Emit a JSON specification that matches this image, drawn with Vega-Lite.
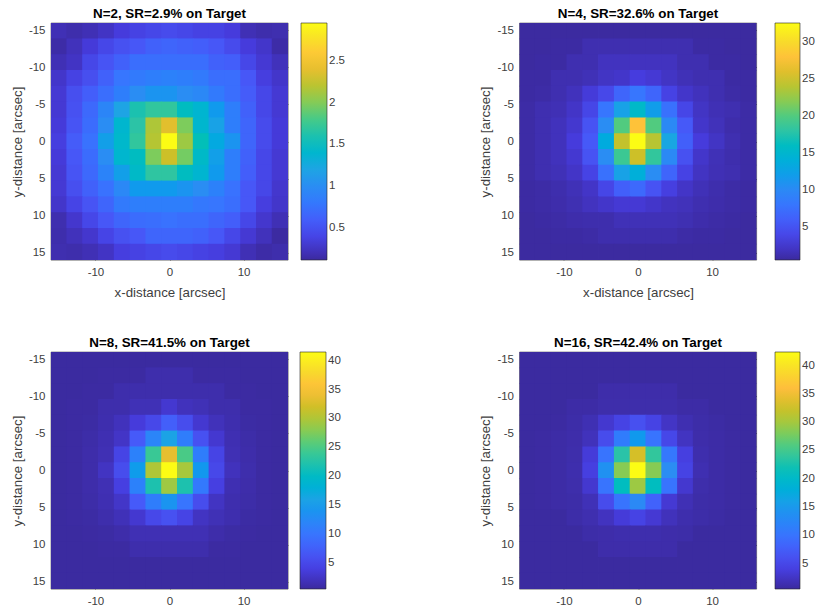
{"$schema":"https://vega.github.io/schema/vega-lite/v6.json","background":"white","padding":{"left":10,"top":7,"right":0,"bottom":0},"bounds":"flush","columns":2,"spacing":{"column":231.5,"row":92},
"resolve":{"scale":{"color":"independent"},"legend":{"color":"independent"}},
"config":{"font":"Liberation Sans","view":{"stroke":"#262626","strokeWidth":0.6},"axis":{"grid":false,"domain":false,"tickColor":"#262626","tickWidth":0.6,"tickSize":-3,"labelColor":"#404040","labelFontSize":11.5,"labelFont":"Liberation Sans","titleColor":"#404040","titleFontSize":13.3,"titleFontWeight":"normal","titleFont":"Liberation Sans","labelExpr":"''+datum.value"},"title":{"font":"Liberation Sans","fontSize":13.4,"fontWeight":"bold","color":"black","anchor":"middle","offset":2},"legend":{"labelColor":"#404040","labelFontSize":11.5,"labelFont":"Liberation Sans"}},
"datasets":{
"n2":[
{"x":-14.93,"y":-14.93,"v":0.2},{"x":-12.8,"y":-14.93,"v":0.17},{"x":-10.67,"y":-14.93,"v":0.2},{"x":-8.53,"y":-14.93,"v":0.25},{"x":-6.4,"y":-14.93,"v":0.33},{"x":-4.27,"y":-14.93,"v":0.38},{"x":-2.13,"y":-14.93,"v":0.42},{"x":0,"y":-14.93,"v":0.45},{"x":2.13,"y":-14.93,"v":0.42},{"x":4.27,"y":-14.93,"v":0.38},{"x":6.4,"y":-14.93,"v":0.38},{"x":8.53,"y":-14.93,"v":0.33},{"x":10.67,"y":-14.93,"v":0.2},{"x":12.8,"y":-14.93,"v":0.17},{"x":14.93,"y":-14.93,"v":0.18},
{"x":-14.93,"y":-12.8,"v":0.15},{"x":-12.8,"y":-12.8,"v":0.22},{"x":-10.67,"y":-12.8,"v":0.32},{"x":-8.53,"y":-12.8,"v":0.42},{"x":-6.4,"y":-12.8,"v":0.5},{"x":-4.27,"y":-12.8,"v":0.55},{"x":-2.13,"y":-12.8,"v":0.62},{"x":0,"y":-12.8,"v":0.65},{"x":2.13,"y":-12.8,"v":0.62},{"x":4.27,"y":-12.8,"v":0.6},{"x":6.4,"y":-12.8,"v":0.55},{"x":8.53,"y":-12.8,"v":0.45},{"x":10.67,"y":-12.8,"v":0.33},{"x":12.8,"y":-12.8,"v":0.27},{"x":14.93,"y":-12.8,"v":0.15},
{"x":-14.93,"y":-10.67,"v":0.2},{"x":-12.8,"y":-10.67,"v":0.25},{"x":-10.67,"y":-10.67,"v":0.42},{"x":-8.53,"y":-10.67,"v":0.52},{"x":-6.4,"y":-10.67,"v":0.62},{"x":-4.27,"y":-10.67,"v":0.72},{"x":-2.13,"y":-10.67,"v":0.72},{"x":0,"y":-10.67,"v":0.72},{"x":2.13,"y":-10.67,"v":0.72},{"x":4.27,"y":-10.67,"v":0.72},{"x":6.4,"y":-10.67,"v":0.62},{"x":8.53,"y":-10.67,"v":0.6},{"x":10.67,"y":-10.67,"v":0.42},{"x":12.8,"y":-10.67,"v":0.3},{"x":14.93,"y":-10.67,"v":0.22},
{"x":-14.93,"y":-8.53,"v":0.27},{"x":-12.8,"y":-8.53,"v":0.38},{"x":-10.67,"y":-8.53,"v":0.48},{"x":-8.53,"y":-8.53,"v":0.62},{"x":-6.4,"y":-8.53,"v":0.78},{"x":-4.27,"y":-8.53,"v":0.82},{"x":-2.13,"y":-8.53,"v":0.85},{"x":0,"y":-8.53,"v":0.88},{"x":2.13,"y":-8.53,"v":0.85},{"x":4.27,"y":-8.53,"v":0.82},{"x":6.4,"y":-8.53,"v":0.72},{"x":8.53,"y":-8.53,"v":0.72},{"x":10.67,"y":-8.53,"v":0.55},{"x":12.8,"y":-8.53,"v":0.35},{"x":14.93,"y":-8.53,"v":0.27},
{"x":-14.93,"y":-6.4,"v":0.3},{"x":-12.8,"y":-6.4,"v":0.48},{"x":-10.67,"y":-6.4,"v":0.6},{"x":-8.53,"y":-6.4,"v":0.72},{"x":-6.4,"y":-6.4,"v":0.85},{"x":-4.27,"y":-6.4,"v":1},{"x":-2.13,"y":-6.4,"v":1.05},{"x":0,"y":-6.4,"v":1.05},{"x":2.13,"y":-6.4,"v":1},{"x":4.27,"y":-6.4,"v":0.95},{"x":6.4,"y":-6.4,"v":0.82},{"x":8.53,"y":-6.4,"v":0.72},{"x":10.67,"y":-6.4,"v":0.58},{"x":12.8,"y":-6.4,"v":0.42},{"x":14.93,"y":-6.4,"v":0.3},
{"x":-14.93,"y":-4.27,"v":0.3},{"x":-12.8,"y":-4.27,"v":0.5},{"x":-10.67,"y":-4.27,"v":0.68},{"x":-8.53,"y":-4.27,"v":0.92},{"x":-6.4,"y":-4.27,"v":1.2},{"x":-4.27,"y":-4.27,"v":1.6},{"x":-2.13,"y":-4.27,"v":1.7},{"x":0,"y":-4.27,"v":1.7},{"x":2.13,"y":-4.27,"v":1.5},{"x":4.27,"y":-4.27,"v":1.38},{"x":6.4,"y":-4.27,"v":1.1},{"x":8.53,"y":-4.27,"v":0.85},{"x":10.67,"y":-4.27,"v":0.62},{"x":12.8,"y":-4.27,"v":0.42},{"x":14.93,"y":-4.27,"v":0.3},
{"x":-14.93,"y":-2.13,"v":0.32},{"x":-12.8,"y":-2.13,"v":0.52},{"x":-10.67,"y":-2.13,"v":0.7},{"x":-8.53,"y":-2.13,"v":1},{"x":-6.4,"y":-2.13,"v":1.4},{"x":-4.27,"y":-2.13,"v":1.65},{"x":-2.13,"y":-2.13,"v":2.15},{"x":0,"y":-2.13,"v":2.38},{"x":2.13,"y":-2.13,"v":1.98},{"x":4.27,"y":-2.13,"v":1.4},{"x":6.4,"y":-2.13,"v":1.18},{"x":8.53,"y":-2.13,"v":0.85},{"x":10.67,"y":-2.13,"v":0.65},{"x":12.8,"y":-2.13,"v":0.45},{"x":14.93,"y":-2.13,"v":0.32},
{"x":-14.93,"y":0,"v":0.35},{"x":-12.8,"y":0,"v":0.58},{"x":-10.67,"y":0,"v":0.75},{"x":-8.53,"y":0,"v":1.15},{"x":-6.4,"y":0,"v":1.42},{"x":-4.27,"y":0,"v":1.7},{"x":-2.13,"y":0,"v":2.18},{"x":0,"y":0,"v":2.95},{"x":2.13,"y":0,"v":2.08},{"x":4.27,"y":0,"v":1.55},{"x":6.4,"y":0,"v":1.25},{"x":8.53,"y":0,"v":1.05},{"x":10.67,"y":0,"v":0.65},{"x":12.8,"y":0,"v":0.45},{"x":14.93,"y":0,"v":0.32},
{"x":-14.93,"y":2.13,"v":0.32},{"x":-12.8,"y":2.13,"v":0.55},{"x":-10.67,"y":2.13,"v":0.7},{"x":-8.53,"y":2.13,"v":1},{"x":-6.4,"y":2.13,"v":1.4},{"x":-4.27,"y":2.13,"v":1.5},{"x":-2.13,"y":2.13,"v":1.98},{"x":0,"y":2.13,"v":2.28},{"x":2.13,"y":2.13,"v":1.95},{"x":4.27,"y":2.13,"v":1.45},{"x":6.4,"y":2.13,"v":1.15},{"x":8.53,"y":2.13,"v":0.85},{"x":10.67,"y":2.13,"v":0.62},{"x":12.8,"y":2.13,"v":0.42},{"x":14.93,"y":2.13,"v":0.3},
{"x":-14.93,"y":4.27,"v":0.3},{"x":-12.8,"y":4.27,"v":0.52},{"x":-10.67,"y":4.27,"v":0.68},{"x":-8.53,"y":4.27,"v":0.9},{"x":-6.4,"y":4.27,"v":1.15},{"x":-4.27,"y":4.27,"v":1.45},{"x":-2.13,"y":4.27,"v":1.68},{"x":0,"y":4.27,"v":1.68},{"x":2.13,"y":4.27,"v":1.5},{"x":4.27,"y":4.27,"v":1.38},{"x":6.4,"y":4.27,"v":1.1},{"x":8.53,"y":4.27,"v":0.85},{"x":10.67,"y":4.27,"v":0.6},{"x":12.8,"y":4.27,"v":0.42},{"x":14.93,"y":4.27,"v":0.3},
{"x":-14.93,"y":6.4,"v":0.3},{"x":-12.8,"y":6.4,"v":0.48},{"x":-10.67,"y":6.4,"v":0.62},{"x":-8.53,"y":6.4,"v":0.75},{"x":-6.4,"y":6.4,"v":0.95},{"x":-4.27,"y":6.4,"v":1.1},{"x":-2.13,"y":6.4,"v":1.1},{"x":0,"y":6.4,"v":1.1},{"x":2.13,"y":6.4,"v":1.05},{"x":4.27,"y":6.4,"v":1},{"x":6.4,"y":6.4,"v":0.88},{"x":8.53,"y":6.4,"v":0.75},{"x":10.67,"y":6.4,"v":0.55},{"x":12.8,"y":6.4,"v":0.42},{"x":14.93,"y":6.4,"v":0.28},
{"x":-14.93,"y":8.53,"v":0.27},{"x":-12.8,"y":8.53,"v":0.4},{"x":-10.67,"y":8.53,"v":0.52},{"x":-8.53,"y":8.53,"v":0.65},{"x":-6.4,"y":8.53,"v":0.82},{"x":-4.27,"y":8.53,"v":0.85},{"x":-2.13,"y":8.53,"v":0.85},{"x":0,"y":8.53,"v":0.85},{"x":2.13,"y":8.53,"v":0.85},{"x":4.27,"y":8.53,"v":0.8},{"x":6.4,"y":8.53,"v":0.78},{"x":8.53,"y":8.53,"v":0.72},{"x":10.67,"y":8.53,"v":0.55},{"x":12.8,"y":8.53,"v":0.35},{"x":14.93,"y":8.53,"v":0.27},
{"x":-14.93,"y":10.67,"v":0.18},{"x":-12.8,"y":10.67,"v":0.28},{"x":-10.67,"y":10.67,"v":0.42},{"x":-8.53,"y":10.67,"v":0.55},{"x":-6.4,"y":10.67,"v":0.65},{"x":-4.27,"y":10.67,"v":0.7},{"x":-2.13,"y":10.67,"v":0.72},{"x":0,"y":10.67,"v":0.75},{"x":2.13,"y":10.67,"v":0.72},{"x":4.27,"y":10.67,"v":0.72},{"x":6.4,"y":10.67,"v":0.65},{"x":8.53,"y":10.67,"v":0.6},{"x":10.67,"y":10.67,"v":0.42},{"x":12.8,"y":10.67,"v":0.28},{"x":14.93,"y":10.67,"v":0.2},
{"x":-14.93,"y":12.8,"v":0.17},{"x":-12.8,"y":12.8,"v":0.22},{"x":-10.67,"y":12.8,"v":0.28},{"x":-8.53,"y":12.8,"v":0.4},{"x":-6.4,"y":12.8,"v":0.5},{"x":-4.27,"y":12.8,"v":0.55},{"x":-2.13,"y":12.8,"v":0.65},{"x":0,"y":12.8,"v":0.65},{"x":2.13,"y":12.8,"v":0.65},{"x":4.27,"y":12.8,"v":0.62},{"x":6.4,"y":12.8,"v":0.55},{"x":8.53,"y":12.8,"v":0.42},{"x":10.67,"y":12.8,"v":0.3},{"x":12.8,"y":12.8,"v":0.22},{"x":14.93,"y":12.8,"v":0.13},
{"x":-14.93,"y":14.93,"v":0.18},{"x":-12.8,"y":14.93,"v":0.17},{"x":-10.67,"y":14.93,"v":0.2},{"x":-8.53,"y":14.93,"v":0.25},{"x":-6.4,"y":14.93,"v":0.35},{"x":-4.27,"y":14.93,"v":0.38},{"x":-2.13,"y":14.93,"v":0.42},{"x":0,"y":14.93,"v":0.45},{"x":2.13,"y":14.93,"v":0.42},{"x":4.27,"y":14.93,"v":0.38},{"x":6.4,"y":14.93,"v":0.35},{"x":8.53,"y":14.93,"v":0.3},{"x":10.67,"y":14.93,"v":0.2},{"x":12.8,"y":14.93,"v":0.15},{"x":14.93,"y":14.93,"v":0.17}
],
"n4":[
{"x":-14.93,"y":-14.93,"v":0.6},{"x":-12.8,"y":-14.93,"v":0.6},{"x":-10.67,"y":-14.93,"v":0.6},{"x":-8.53,"y":-14.93,"v":0.6},{"x":-6.4,"y":-14.93,"v":0.6},{"x":-4.27,"y":-14.93,"v":0.6},{"x":-2.13,"y":-14.93,"v":0.6},{"x":0,"y":-14.93,"v":0.6},{"x":2.13,"y":-14.93,"v":0.6},{"x":4.27,"y":-14.93,"v":0.6},{"x":6.4,"y":-14.93,"v":0.6},{"x":8.53,"y":-14.93,"v":0.6},{"x":10.67,"y":-14.93,"v":0.6},{"x":12.8,"y":-14.93,"v":0.6},{"x":14.93,"y":-14.93,"v":0.6},
{"x":-14.93,"y":-12.8,"v":0.6},{"x":-12.8,"y":-12.8,"v":0.6},{"x":-10.67,"y":-12.8,"v":0.7},{"x":-8.53,"y":-12.8,"v":0.7},{"x":-6.4,"y":-12.8,"v":1.2},{"x":-4.27,"y":-12.8,"v":1.2},{"x":-2.13,"y":-12.8,"v":1.2},{"x":0,"y":-12.8,"v":1.2},{"x":2.13,"y":-12.8,"v":1.2},{"x":4.27,"y":-12.8,"v":1.2},{"x":6.4,"y":-12.8,"v":1.2},{"x":8.53,"y":-12.8,"v":0.7},{"x":10.67,"y":-12.8,"v":0.7},{"x":12.8,"y":-12.8,"v":0.6},{"x":14.93,"y":-12.8,"v":0.6},
{"x":-14.93,"y":-10.67,"v":0.6},{"x":-12.8,"y":-10.67,"v":0.7},{"x":-10.67,"y":-10.67,"v":0.7},{"x":-8.53,"y":-10.67,"v":1.2},{"x":-6.4,"y":-10.67,"v":1.2},{"x":-4.27,"y":-10.67,"v":1.8},{"x":-2.13,"y":-10.67,"v":1.8},{"x":0,"y":-10.67,"v":1.8},{"x":2.13,"y":-10.67,"v":1.8},{"x":4.27,"y":-10.67,"v":1.8},{"x":6.4,"y":-10.67,"v":1.2},{"x":8.53,"y":-10.67,"v":1.2},{"x":10.67,"y":-10.67,"v":0.7},{"x":12.8,"y":-10.67,"v":0.7},{"x":14.93,"y":-10.67,"v":0.6},
{"x":-14.93,"y":-8.53,"v":0.7},{"x":-12.8,"y":-8.53,"v":0.7},{"x":-10.67,"y":-8.53,"v":1.2},{"x":-8.53,"y":-8.53,"v":1.2},{"x":-6.4,"y":-8.53,"v":1.5},{"x":-4.27,"y":-8.53,"v":2},{"x":-2.13,"y":-8.53,"v":2.2},{"x":0,"y":-8.53,"v":3},{"x":2.13,"y":-8.53,"v":2.6},{"x":4.27,"y":-8.53,"v":2},{"x":6.4,"y":-8.53,"v":1.5},{"x":8.53,"y":-8.53,"v":1.2},{"x":10.67,"y":-8.53,"v":1.2},{"x":12.8,"y":-8.53,"v":0.7},{"x":14.93,"y":-8.53,"v":0.7},
{"x":-14.93,"y":-6.4,"v":0.7},{"x":-12.8,"y":-6.4,"v":0.8},{"x":-10.67,"y":-6.4,"v":1.2},{"x":-8.53,"y":-6.4,"v":1.7},{"x":-6.4,"y":-6.4,"v":2.8},{"x":-4.27,"y":-6.4,"v":4},{"x":-2.13,"y":-6.4,"v":6.5},{"x":0,"y":-6.4,"v":8},{"x":2.13,"y":-6.4,"v":6.5},{"x":4.27,"y":-6.4,"v":3.5},{"x":6.4,"y":-6.4,"v":2.2},{"x":8.53,"y":-6.4,"v":1.7},{"x":10.67,"y":-6.4,"v":1.2},{"x":12.8,"y":-6.4,"v":0.8},{"x":14.93,"y":-6.4,"v":0.7},
{"x":-14.93,"y":-4.27,"v":0.8},{"x":-12.8,"y":-4.27,"v":1.2},{"x":-10.67,"y":-4.27,"v":1.4},{"x":-8.53,"y":-4.27,"v":2.1},{"x":-6.4,"y":-4.27,"v":3.8},{"x":-4.27,"y":-4.27,"v":8},{"x":-2.13,"y":-4.27,"v":12.5},{"x":0,"y":-4.27,"v":15.5},{"x":2.13,"y":-4.27,"v":12},{"x":4.27,"y":-4.27,"v":7.5},{"x":6.4,"y":-4.27,"v":3.8},{"x":8.53,"y":-4.27,"v":2},{"x":10.67,"y":-4.27,"v":1.4},{"x":12.8,"y":-4.27,"v":1.2},{"x":14.93,"y":-4.27,"v":0.8},
{"x":-14.93,"y":-2.13,"v":0.8},{"x":-12.8,"y":-2.13,"v":1.2},{"x":-10.67,"y":-2.13,"v":1.7},{"x":-8.53,"y":-2.13,"v":2.4},{"x":-6.4,"y":-2.13,"v":5},{"x":-4.27,"y":-2.13,"v":10.5},{"x":-2.13,"y":-2.13,"v":20},{"x":0,"y":-2.13,"v":28},{"x":2.13,"y":-2.13,"v":20},{"x":4.27,"y":-2.13,"v":10},{"x":6.4,"y":-2.13,"v":5.5},{"x":8.53,"y":-2.13,"v":2.2},{"x":10.67,"y":-2.13,"v":1.6},{"x":12.8,"y":-2.13,"v":1},{"x":14.93,"y":-2.13,"v":0.8},
{"x":-14.93,"y":0,"v":0.8},{"x":-12.8,"y":0,"v":1.2},{"x":-10.67,"y":0,"v":1.7},{"x":-8.53,"y":0,"v":2.9},{"x":-6.4,"y":0,"v":5.5},{"x":-4.27,"y":0,"v":13.5},{"x":-2.13,"y":0,"v":24.5},{"x":0,"y":0,"v":32.6},{"x":2.13,"y":0,"v":24},{"x":4.27,"y":0,"v":13},{"x":6.4,"y":0,"v":6},{"x":8.53,"y":0,"v":2.9},{"x":10.67,"y":0,"v":2},{"x":12.8,"y":0,"v":1.2},{"x":14.93,"y":0,"v":0.8},
{"x":-14.93,"y":2.13,"v":0.8},{"x":-12.8,"y":2.13,"v":1.2},{"x":-10.67,"y":2.13,"v":1.7},{"x":-8.53,"y":2.13,"v":2.5},{"x":-6.4,"y":2.13,"v":5},{"x":-4.27,"y":2.13,"v":10.5},{"x":-2.13,"y":2.13,"v":19},{"x":0,"y":2.13,"v":25},{"x":2.13,"y":2.13,"v":18.5},{"x":4.27,"y":2.13,"v":10},{"x":6.4,"y":2.13,"v":4.8},{"x":8.53,"y":2.13,"v":2.2},{"x":10.67,"y":2.13,"v":1.5},{"x":12.8,"y":2.13,"v":1.1},{"x":14.93,"y":2.13,"v":0.8},
{"x":-14.93,"y":4.27,"v":0.8},{"x":-12.8,"y":4.27,"v":1.2},{"x":-10.67,"y":4.27,"v":1.5},{"x":-8.53,"y":4.27,"v":2.1},{"x":-6.4,"y":4.27,"v":3.6},{"x":-4.27,"y":4.27,"v":7.5},{"x":-2.13,"y":4.27,"v":12.5},{"x":0,"y":4.27,"v":14},{"x":2.13,"y":4.27,"v":10.5},{"x":4.27,"y":4.27,"v":6.5},{"x":6.4,"y":4.27,"v":3.5},{"x":8.53,"y":4.27,"v":1.9},{"x":10.67,"y":4.27,"v":1.4},{"x":12.8,"y":4.27,"v":1.2},{"x":14.93,"y":4.27,"v":0.8},
{"x":-14.93,"y":6.4,"v":0.7},{"x":-12.8,"y":6.4,"v":0.8},{"x":-10.67,"y":6.4,"v":1.1},{"x":-8.53,"y":6.4,"v":1.5},{"x":-6.4,"y":6.4,"v":2.1},{"x":-4.27,"y":6.4,"v":3.8},{"x":-2.13,"y":6.4,"v":6},{"x":0,"y":6.4,"v":6.8},{"x":2.13,"y":6.4,"v":5},{"x":4.27,"y":6.4,"v":3.2},{"x":6.4,"y":6.4,"v":2.1},{"x":8.53,"y":6.4,"v":1.5},{"x":10.67,"y":6.4,"v":1.1},{"x":12.8,"y":6.4,"v":0.8},{"x":14.93,"y":6.4,"v":0.7},
{"x":-14.93,"y":8.53,"v":0.7},{"x":-12.8,"y":8.53,"v":0.8},{"x":-10.67,"y":8.53,"v":1},{"x":-8.53,"y":8.53,"v":1.3},{"x":-6.4,"y":8.53,"v":1.8},{"x":-4.27,"y":8.53,"v":2.2},{"x":-2.13,"y":8.53,"v":2.6},{"x":0,"y":8.53,"v":2.6},{"x":2.13,"y":8.53,"v":2.2},{"x":4.27,"y":8.53,"v":1.8},{"x":6.4,"y":8.53,"v":1.6},{"x":8.53,"y":8.53,"v":1.2},{"x":10.67,"y":8.53,"v":1},{"x":12.8,"y":8.53,"v":0.8},{"x":14.93,"y":8.53,"v":0.7},
{"x":-14.93,"y":10.67,"v":0.6},{"x":-12.8,"y":10.67,"v":0.7},{"x":-10.67,"y":10.67,"v":0.8},{"x":-8.53,"y":10.67,"v":1},{"x":-6.4,"y":10.67,"v":1.1},{"x":-4.27,"y":10.67,"v":1.1},{"x":-2.13,"y":10.67,"v":1.5},{"x":0,"y":10.67,"v":1.5},{"x":2.13,"y":10.67,"v":1.5},{"x":4.27,"y":10.67,"v":1.5},{"x":6.4,"y":10.67,"v":1.3},{"x":8.53,"y":10.67,"v":1},{"x":10.67,"y":10.67,"v":0.8},{"x":12.8,"y":10.67,"v":0.7},{"x":14.93,"y":10.67,"v":0.6},
{"x":-14.93,"y":12.8,"v":0.6},{"x":-12.8,"y":12.8,"v":0.6},{"x":-10.67,"y":12.8,"v":0.7},{"x":-8.53,"y":12.8,"v":0.7},{"x":-6.4,"y":12.8,"v":0.8},{"x":-4.27,"y":12.8,"v":1.1},{"x":-2.13,"y":12.8,"v":1.1},{"x":0,"y":12.8,"v":1.1},{"x":2.13,"y":12.8,"v":1.1},{"x":4.27,"y":12.8,"v":1.1},{"x":6.4,"y":12.8,"v":0.8},{"x":8.53,"y":12.8,"v":0.7},{"x":10.67,"y":12.8,"v":0.7},{"x":12.8,"y":12.8,"v":0.6},{"x":14.93,"y":12.8,"v":0.6},
{"x":-14.93,"y":14.93,"v":0.6},{"x":-12.8,"y":14.93,"v":0.6},{"x":-10.67,"y":14.93,"v":0.6},{"x":-8.53,"y":14.93,"v":0.6},{"x":-6.4,"y":14.93,"v":0.6},{"x":-4.27,"y":14.93,"v":0.6},{"x":-2.13,"y":14.93,"v":0.6},{"x":0,"y":14.93,"v":0.6},{"x":2.13,"y":14.93,"v":0.6},{"x":4.27,"y":14.93,"v":0.6},{"x":6.4,"y":14.93,"v":0.6},{"x":8.53,"y":14.93,"v":0.6},{"x":10.67,"y":14.93,"v":0.6},{"x":12.8,"y":14.93,"v":0.6},{"x":14.93,"y":14.93,"v":0.6}
],
"n8":[
{"x":-14.93,"y":-14.93,"v":0.6},{"x":-12.8,"y":-14.93,"v":0.6},{"x":-10.67,"y":-14.93,"v":0.6},{"x":-8.53,"y":-14.93,"v":0.6},{"x":-6.4,"y":-14.93,"v":0.6},{"x":-4.27,"y":-14.93,"v":0.6},{"x":-2.13,"y":-14.93,"v":0.6},{"x":0,"y":-14.93,"v":0.6},{"x":2.13,"y":-14.93,"v":0.6},{"x":4.27,"y":-14.93,"v":0.6},{"x":6.4,"y":-14.93,"v":0.6},{"x":8.53,"y":-14.93,"v":0.6},{"x":10.67,"y":-14.93,"v":0.6},{"x":12.8,"y":-14.93,"v":0.6},{"x":14.93,"y":-14.93,"v":0.6},
{"x":-14.93,"y":-12.8,"v":0.6},{"x":-12.8,"y":-12.8,"v":0.6},{"x":-10.67,"y":-12.8,"v":0.6},{"x":-8.53,"y":-12.8,"v":0.7},{"x":-6.4,"y":-12.8,"v":0.7},{"x":-4.27,"y":-12.8,"v":0.7},{"x":-2.13,"y":-12.8,"v":1.2},{"x":0,"y":-12.8,"v":1.2},{"x":2.13,"y":-12.8,"v":1.2},{"x":4.27,"y":-12.8,"v":0.7},{"x":6.4,"y":-12.8,"v":0.7},{"x":8.53,"y":-12.8,"v":0.7},{"x":10.67,"y":-12.8,"v":0.6},{"x":12.8,"y":-12.8,"v":0.6},{"x":14.93,"y":-12.8,"v":0.6},
{"x":-14.93,"y":-10.67,"v":0.6},{"x":-12.8,"y":-10.67,"v":0.6},{"x":-10.67,"y":-10.67,"v":0.7},{"x":-8.53,"y":-10.67,"v":0.7},{"x":-6.4,"y":-10.67,"v":1.2},{"x":-4.27,"y":-10.67,"v":1.2},{"x":-2.13,"y":-10.67,"v":1.2},{"x":0,"y":-10.67,"v":1.2},{"x":2.13,"y":-10.67,"v":1.2},{"x":4.27,"y":-10.67,"v":1.2},{"x":6.4,"y":-10.67,"v":1.2},{"x":8.53,"y":-10.67,"v":0.7},{"x":10.67,"y":-10.67,"v":0.7},{"x":12.8,"y":-10.67,"v":0.6},{"x":14.93,"y":-10.67,"v":0.6},
{"x":-14.93,"y":-8.53,"v":0.6},{"x":-12.8,"y":-8.53,"v":0.7},{"x":-10.67,"y":-8.53,"v":0.7},{"x":-8.53,"y":-8.53,"v":1.2},{"x":-6.4,"y":-8.53,"v":1.2},{"x":-4.27,"y":-8.53,"v":1.7},{"x":-2.13,"y":-8.53,"v":1.7},{"x":0,"y":-8.53,"v":3},{"x":2.13,"y":-8.53,"v":2},{"x":4.27,"y":-8.53,"v":1.7},{"x":6.4,"y":-8.53,"v":1.2},{"x":8.53,"y":-8.53,"v":1.2},{"x":10.67,"y":-8.53,"v":0.7},{"x":12.8,"y":-8.53,"v":0.7},{"x":14.93,"y":-8.53,"v":0.6},
{"x":-14.93,"y":-6.4,"v":0.6},{"x":-12.8,"y":-6.4,"v":0.7},{"x":-10.67,"y":-6.4,"v":0.8},{"x":-8.53,"y":-6.4,"v":1.3},{"x":-6.4,"y":-6.4,"v":2},{"x":-4.27,"y":-6.4,"v":3.5},{"x":-2.13,"y":-6.4,"v":5},{"x":0,"y":-6.4,"v":7.5},{"x":2.13,"y":-6.4,"v":5.5},{"x":4.27,"y":-6.4,"v":3},{"x":6.4,"y":-6.4,"v":1.9},{"x":8.53,"y":-6.4,"v":1.3},{"x":10.67,"y":-6.4,"v":0.8},{"x":12.8,"y":-6.4,"v":0.7},{"x":14.93,"y":-6.4,"v":0.6},
{"x":-14.93,"y":-4.27,"v":0.6},{"x":-12.8,"y":-4.27,"v":0.7},{"x":-10.67,"y":-4.27,"v":1},{"x":-8.53,"y":-4.27,"v":1.5},{"x":-6.4,"y":-4.27,"v":2.5},{"x":-4.27,"y":-4.27,"v":7},{"x":-2.13,"y":-4.27,"v":12},{"x":0,"y":-4.27,"v":16},{"x":2.13,"y":-4.27,"v":11},{"x":4.27,"y":-4.27,"v":6},{"x":6.4,"y":-4.27,"v":3},{"x":8.53,"y":-4.27,"v":1.5},{"x":10.67,"y":-4.27,"v":1},{"x":12.8,"y":-4.27,"v":0.7},{"x":14.93,"y":-4.27,"v":0.6},
{"x":-14.93,"y":-2.13,"v":0.6},{"x":-12.8,"y":-2.13,"v":0.7},{"x":-10.67,"y":-2.13,"v":1.1},{"x":-8.53,"y":-2.13,"v":1.6},{"x":-6.4,"y":-2.13,"v":4.5},{"x":-4.27,"y":-2.13,"v":11.5},{"x":-2.13,"y":-2.13,"v":24},{"x":0,"y":-2.13,"v":33.5},{"x":2.13,"y":-2.13,"v":25},{"x":4.27,"y":-2.13,"v":11},{"x":6.4,"y":-2.13,"v":4.5},{"x":8.53,"y":-2.13,"v":1.6},{"x":10.67,"y":-2.13,"v":1.1},{"x":12.8,"y":-2.13,"v":0.7},{"x":14.93,"y":-2.13,"v":0.6},
{"x":-14.93,"y":0,"v":0.6},{"x":-12.8,"y":0,"v":0.7},{"x":-10.67,"y":0,"v":1.1},{"x":-8.53,"y":0,"v":2.3},{"x":-6.4,"y":0,"v":5.5},{"x":-4.27,"y":0,"v":15},{"x":-2.13,"y":0,"v":30},{"x":0,"y":0,"v":41.5},{"x":2.13,"y":0,"v":29.5},{"x":4.27,"y":0,"v":14.5},{"x":6.4,"y":0,"v":5},{"x":8.53,"y":0,"v":2},{"x":10.67,"y":0,"v":1.2},{"x":12.8,"y":0,"v":0.7},{"x":14.93,"y":0,"v":0.6},
{"x":-14.93,"y":2.13,"v":0.6},{"x":-12.8,"y":2.13,"v":0.7},{"x":-10.67,"y":2.13,"v":1.1},{"x":-8.53,"y":2.13,"v":1.6},{"x":-6.4,"y":2.13,"v":4},{"x":-4.27,"y":2.13,"v":11.5},{"x":-2.13,"y":2.13,"v":22},{"x":0,"y":2.13,"v":29},{"x":2.13,"y":2.13,"v":22},{"x":4.27,"y":2.13,"v":10.5},{"x":6.4,"y":2.13,"v":4},{"x":8.53,"y":2.13,"v":1.5},{"x":10.67,"y":2.13,"v":1.1},{"x":12.8,"y":2.13,"v":0.7},{"x":14.93,"y":2.13,"v":0.6},
{"x":-14.93,"y":4.27,"v":0.6},{"x":-12.8,"y":4.27,"v":0.7},{"x":-10.67,"y":4.27,"v":1},{"x":-8.53,"y":4.27,"v":1.5},{"x":-6.4,"y":4.27,"v":2.6},{"x":-4.27,"y":4.27,"v":7},{"x":-2.13,"y":4.27,"v":11},{"x":0,"y":4.27,"v":14},{"x":2.13,"y":4.27,"v":10},{"x":4.27,"y":4.27,"v":5.5},{"x":6.4,"y":4.27,"v":2.3},{"x":8.53,"y":4.27,"v":1.3},{"x":10.67,"y":4.27,"v":1},{"x":12.8,"y":4.27,"v":0.7},{"x":14.93,"y":4.27,"v":0.6},
{"x":-14.93,"y":6.4,"v":0.6},{"x":-12.8,"y":6.4,"v":0.7},{"x":-10.67,"y":6.4,"v":0.8},{"x":-8.53,"y":6.4,"v":1.2},{"x":-6.4,"y":6.4,"v":1.8},{"x":-4.27,"y":6.4,"v":3},{"x":-2.13,"y":6.4,"v":5},{"x":0,"y":6.4,"v":6},{"x":2.13,"y":6.4,"v":4.5},{"x":4.27,"y":6.4,"v":2.3},{"x":6.4,"y":6.4,"v":1.7},{"x":8.53,"y":6.4,"v":1.3},{"x":10.67,"y":6.4,"v":0.8},{"x":12.8,"y":6.4,"v":0.7},{"x":14.93,"y":6.4,"v":0.6},
{"x":-14.93,"y":8.53,"v":0.6},{"x":-12.8,"y":8.53,"v":0.6},{"x":-10.67,"y":8.53,"v":0.7},{"x":-8.53,"y":8.53,"v":0.8},{"x":-6.4,"y":8.53,"v":1.1},{"x":-4.27,"y":8.53,"v":1.6},{"x":-2.13,"y":8.53,"v":1.6},{"x":0,"y":8.53,"v":1.6},{"x":2.13,"y":8.53,"v":1.6},{"x":4.27,"y":8.53,"v":1.6},{"x":6.4,"y":8.53,"v":1.1},{"x":8.53,"y":8.53,"v":0.8},{"x":10.67,"y":8.53,"v":0.7},{"x":12.8,"y":8.53,"v":0.6},{"x":14.93,"y":8.53,"v":0.6},
{"x":-14.93,"y":10.67,"v":0.6},{"x":-12.8,"y":10.67,"v":0.6},{"x":-10.67,"y":10.67,"v":0.6},{"x":-8.53,"y":10.67,"v":0.7},{"x":-6.4,"y":10.67,"v":0.7},{"x":-4.27,"y":10.67,"v":1.2},{"x":-2.13,"y":10.67,"v":1.2},{"x":0,"y":10.67,"v":1.2},{"x":2.13,"y":10.67,"v":1.2},{"x":4.27,"y":10.67,"v":1.2},{"x":6.4,"y":10.67,"v":0.7},{"x":8.53,"y":10.67,"v":0.7},{"x":10.67,"y":10.67,"v":0.6},{"x":12.8,"y":10.67,"v":0.6},{"x":14.93,"y":10.67,"v":0.6},
{"x":-14.93,"y":12.8,"v":0.6},{"x":-12.8,"y":12.8,"v":0.6},{"x":-10.67,"y":12.8,"v":0.6},{"x":-8.53,"y":12.8,"v":0.6},{"x":-6.4,"y":12.8,"v":0.6},{"x":-4.27,"y":12.8,"v":0.6},{"x":-2.13,"y":12.8,"v":0.6},{"x":0,"y":12.8,"v":0.6},{"x":2.13,"y":12.8,"v":0.6},{"x":4.27,"y":12.8,"v":0.6},{"x":6.4,"y":12.8,"v":0.6},{"x":8.53,"y":12.8,"v":0.6},{"x":10.67,"y":12.8,"v":0.6},{"x":12.8,"y":12.8,"v":0.6},{"x":14.93,"y":12.8,"v":0.6},
{"x":-14.93,"y":14.93,"v":0.6},{"x":-12.8,"y":14.93,"v":0.6},{"x":-10.67,"y":14.93,"v":0.6},{"x":-8.53,"y":14.93,"v":0.6},{"x":-6.4,"y":14.93,"v":0.6},{"x":-4.27,"y":14.93,"v":0.6},{"x":-2.13,"y":14.93,"v":0.6},{"x":0,"y":14.93,"v":0.6},{"x":2.13,"y":14.93,"v":0.6},{"x":4.27,"y":14.93,"v":0.6},{"x":6.4,"y":14.93,"v":0.6},{"x":8.53,"y":14.93,"v":0.6},{"x":10.67,"y":14.93,"v":0.6},{"x":12.8,"y":14.93,"v":0.6},{"x":14.93,"y":14.93,"v":0.6}
],
"n16":[
{"x":-14.93,"y":-14.93,"v":0.6},{"x":-12.8,"y":-14.93,"v":0.6},{"x":-10.67,"y":-14.93,"v":0.6},{"x":-8.53,"y":-14.93,"v":0.6},{"x":-6.4,"y":-14.93,"v":0.6},{"x":-4.27,"y":-14.93,"v":0.6},{"x":-2.13,"y":-14.93,"v":0.6},{"x":0,"y":-14.93,"v":0.6},{"x":2.13,"y":-14.93,"v":0.6},{"x":4.27,"y":-14.93,"v":0.6},{"x":6.4,"y":-14.93,"v":0.6},{"x":8.53,"y":-14.93,"v":0.6},{"x":10.67,"y":-14.93,"v":0.6},{"x":12.8,"y":-14.93,"v":0.6},{"x":14.93,"y":-14.93,"v":0.6},
{"x":-14.93,"y":-12.8,"v":0.6},{"x":-12.8,"y":-12.8,"v":0.6},{"x":-10.67,"y":-12.8,"v":0.6},{"x":-8.53,"y":-12.8,"v":0.6},{"x":-6.4,"y":-12.8,"v":0.6},{"x":-4.27,"y":-12.8,"v":0.6},{"x":-2.13,"y":-12.8,"v":0.6},{"x":0,"y":-12.8,"v":0.6},{"x":2.13,"y":-12.8,"v":0.6},{"x":4.27,"y":-12.8,"v":0.6},{"x":6.4,"y":-12.8,"v":0.6},{"x":8.53,"y":-12.8,"v":0.6},{"x":10.67,"y":-12.8,"v":0.6},{"x":12.8,"y":-12.8,"v":0.6},{"x":14.93,"y":-12.8,"v":0.6},
{"x":-14.93,"y":-10.67,"v":0.6},{"x":-12.8,"y":-10.67,"v":0.6},{"x":-10.67,"y":-10.67,"v":0.6},{"x":-8.53,"y":-10.67,"v":0.6},{"x":-6.4,"y":-10.67,"v":0.6},{"x":-4.27,"y":-10.67,"v":1.1},{"x":-2.13,"y":-10.67,"v":1.1},{"x":0,"y":-10.67,"v":1.1},{"x":2.13,"y":-10.67,"v":1.1},{"x":4.27,"y":-10.67,"v":1.1},{"x":6.4,"y":-10.67,"v":0.6},{"x":8.53,"y":-10.67,"v":0.6},{"x":10.67,"y":-10.67,"v":0.6},{"x":12.8,"y":-10.67,"v":0.6},{"x":14.93,"y":-10.67,"v":0.6},
{"x":-14.93,"y":-8.53,"v":0.6},{"x":-12.8,"y":-8.53,"v":0.6},{"x":-10.67,"y":-8.53,"v":0.6},{"x":-8.53,"y":-8.53,"v":0.9},{"x":-6.4,"y":-8.53,"v":0.9},{"x":-4.27,"y":-8.53,"v":1.2},{"x":-2.13,"y":-8.53,"v":1.2},{"x":0,"y":-8.53,"v":1.2},{"x":2.13,"y":-8.53,"v":1.2},{"x":4.27,"y":-8.53,"v":1.2},{"x":6.4,"y":-8.53,"v":0.9},{"x":8.53,"y":-8.53,"v":0.9},{"x":10.67,"y":-8.53,"v":0.6},{"x":12.8,"y":-8.53,"v":0.6},{"x":14.93,"y":-8.53,"v":0.6},
{"x":-14.93,"y":-6.4,"v":0.6},{"x":-12.8,"y":-6.4,"v":0.6},{"x":-10.67,"y":-6.4,"v":0.7},{"x":-8.53,"y":-6.4,"v":1},{"x":-6.4,"y":-6.4,"v":1.6},{"x":-4.27,"y":-6.4,"v":3},{"x":-2.13,"y":-6.4,"v":4.5},{"x":0,"y":-6.4,"v":6},{"x":2.13,"y":-6.4,"v":4.5},{"x":4.27,"y":-6.4,"v":2.5},{"x":6.4,"y":-6.4,"v":1.5},{"x":8.53,"y":-6.4,"v":1},{"x":10.67,"y":-6.4,"v":0.8},{"x":12.8,"y":-6.4,"v":0.6},{"x":14.93,"y":-6.4,"v":0.6},
{"x":-14.93,"y":-4.27,"v":0.6},{"x":-12.8,"y":-4.27,"v":0.7},{"x":-10.67,"y":-4.27,"v":0.9},{"x":-8.53,"y":-4.27,"v":1.1},{"x":-6.4,"y":-4.27,"v":2},{"x":-4.27,"y":-4.27,"v":5.5},{"x":-2.13,"y":-4.27,"v":11},{"x":0,"y":-4.27,"v":15},{"x":2.13,"y":-4.27,"v":10},{"x":4.27,"y":-4.27,"v":5},{"x":6.4,"y":-4.27,"v":2.3},{"x":8.53,"y":-4.27,"v":1.1},{"x":10.67,"y":-4.27,"v":0.9},{"x":12.8,"y":-4.27,"v":0.7},{"x":14.93,"y":-4.27,"v":0.6},
{"x":-14.93,"y":-2.13,"v":0.6},{"x":-12.8,"y":-2.13,"v":0.7},{"x":-10.67,"y":-2.13,"v":0.9},{"x":-8.53,"y":-2.13,"v":1.2},{"x":-6.4,"y":-2.13,"v":3.5},{"x":-4.27,"y":-2.13,"v":10},{"x":-2.13,"y":-2.13,"v":23},{"x":0,"y":-2.13,"v":33},{"x":2.13,"y":-2.13,"v":24},{"x":4.27,"y":-2.13,"v":10.5},{"x":6.4,"y":-2.13,"v":4},{"x":8.53,"y":-2.13,"v":1.3},{"x":10.67,"y":-2.13,"v":0.9},{"x":12.8,"y":-2.13,"v":0.7},{"x":14.93,"y":-2.13,"v":0.6},
{"x":-14.93,"y":0,"v":0.6},{"x":-12.8,"y":0,"v":0.7},{"x":-10.67,"y":0,"v":0.9},{"x":-8.53,"y":0,"v":1.3},{"x":-6.4,"y":0,"v":4},{"x":-4.27,"y":0,"v":14},{"x":-2.13,"y":0,"v":28.5},{"x":0,"y":0,"v":42.4},{"x":2.13,"y":0,"v":28.5},{"x":4.27,"y":0,"v":13.5},{"x":6.4,"y":0,"v":4.5},{"x":8.53,"y":0,"v":1.5},{"x":10.67,"y":0,"v":0.9},{"x":12.8,"y":0,"v":0.7},{"x":14.93,"y":0,"v":0.6},
{"x":-14.93,"y":2.13,"v":0.6},{"x":-12.8,"y":2.13,"v":0.7},{"x":-10.67,"y":2.13,"v":0.9},{"x":-8.53,"y":2.13,"v":1.2},{"x":-6.4,"y":2.13,"v":3},{"x":-4.27,"y":2.13,"v":10},{"x":-2.13,"y":2.13,"v":21},{"x":0,"y":2.13,"v":29.5},{"x":2.13,"y":2.13,"v":21},{"x":4.27,"y":2.13,"v":10},{"x":6.4,"y":2.13,"v":3},{"x":8.53,"y":2.13,"v":1.2},{"x":10.67,"y":2.13,"v":0.9},{"x":12.8,"y":2.13,"v":0.7},{"x":14.93,"y":2.13,"v":0.6},
{"x":-14.93,"y":4.27,"v":0.6},{"x":-12.8,"y":4.27,"v":0.7},{"x":-10.67,"y":4.27,"v":0.9},{"x":-8.53,"y":4.27,"v":1},{"x":-6.4,"y":4.27,"v":1.8},{"x":-4.27,"y":4.27,"v":5.5},{"x":-2.13,"y":4.27,"v":10},{"x":0,"y":4.27,"v":13},{"x":2.13,"y":4.27,"v":8},{"x":4.27,"y":4.27,"v":3.2},{"x":6.4,"y":4.27,"v":1.7},{"x":8.53,"y":4.27,"v":1},{"x":10.67,"y":4.27,"v":0.9},{"x":12.8,"y":4.27,"v":0.7},{"x":14.93,"y":4.27,"v":0.6},
{"x":-14.93,"y":6.4,"v":0.6},{"x":-12.8,"y":6.4,"v":0.6},{"x":-10.67,"y":6.4,"v":0.6},{"x":-8.53,"y":6.4,"v":1},{"x":-6.4,"y":6.4,"v":1.4},{"x":-4.27,"y":6.4,"v":2.2},{"x":-2.13,"y":6.4,"v":3.5},{"x":0,"y":6.4,"v":4.5},{"x":2.13,"y":6.4,"v":3.2},{"x":4.27,"y":6.4,"v":2},{"x":6.4,"y":6.4,"v":1.3},{"x":8.53,"y":6.4,"v":1},{"x":10.67,"y":6.4,"v":0.8},{"x":12.8,"y":6.4,"v":0.6},{"x":14.93,"y":6.4,"v":0.6},
{"x":-14.93,"y":8.53,"v":0.6},{"x":-12.8,"y":8.53,"v":0.6},{"x":-10.67,"y":8.53,"v":0.6},{"x":-8.53,"y":8.53,"v":0.6},{"x":-6.4,"y":8.53,"v":1},{"x":-4.27,"y":8.53,"v":1.1},{"x":-2.13,"y":8.53,"v":1.3},{"x":0,"y":8.53,"v":1.3},{"x":2.13,"y":8.53,"v":1.3},{"x":4.27,"y":8.53,"v":1.1},{"x":6.4,"y":8.53,"v":1},{"x":8.53,"y":8.53,"v":0.6},{"x":10.67,"y":8.53,"v":0.6},{"x":12.8,"y":8.53,"v":0.6},{"x":14.93,"y":8.53,"v":0.6},
{"x":-14.93,"y":10.67,"v":0.6},{"x":-12.8,"y":10.67,"v":0.6},{"x":-10.67,"y":10.67,"v":0.6},{"x":-8.53,"y":10.67,"v":0.6},{"x":-6.4,"y":10.67,"v":0.6},{"x":-4.27,"y":10.67,"v":1.1},{"x":-2.13,"y":10.67,"v":1.1},{"x":0,"y":10.67,"v":1.1},{"x":2.13,"y":10.67,"v":1.1},{"x":4.27,"y":10.67,"v":1.1},{"x":6.4,"y":10.67,"v":0.6},{"x":8.53,"y":10.67,"v":0.6},{"x":10.67,"y":10.67,"v":0.6},{"x":12.8,"y":10.67,"v":0.6},{"x":14.93,"y":10.67,"v":0.6},
{"x":-14.93,"y":12.8,"v":0.6},{"x":-12.8,"y":12.8,"v":0.6},{"x":-10.67,"y":12.8,"v":0.6},{"x":-8.53,"y":12.8,"v":0.6},{"x":-6.4,"y":12.8,"v":0.6},{"x":-4.27,"y":12.8,"v":0.6},{"x":-2.13,"y":12.8,"v":0.6},{"x":0,"y":12.8,"v":0.6},{"x":2.13,"y":12.8,"v":0.6},{"x":4.27,"y":12.8,"v":0.6},{"x":6.4,"y":12.8,"v":0.6},{"x":8.53,"y":12.8,"v":0.6},{"x":10.67,"y":12.8,"v":0.6},{"x":12.8,"y":12.8,"v":0.6},{"x":14.93,"y":12.8,"v":0.6},
{"x":-14.93,"y":14.93,"v":0.6},{"x":-12.8,"y":14.93,"v":0.6},{"x":-10.67,"y":14.93,"v":0.6},{"x":-8.53,"y":14.93,"v":0.6},{"x":-6.4,"y":14.93,"v":0.6},{"x":-4.27,"y":14.93,"v":0.6},{"x":-2.13,"y":14.93,"v":0.6},{"x":0,"y":14.93,"v":0.6},{"x":2.13,"y":14.93,"v":0.6},{"x":4.27,"y":14.93,"v":0.6},{"x":6.4,"y":14.93,"v":0.6},{"x":8.53,"y":14.93,"v":0.6},{"x":10.67,"y":14.93,"v":0.6},{"x":12.8,"y":14.93,"v":0.6},{"x":14.93,"y":14.93,"v":0.6}
],
"tick":[{"x":0,"y":0}]
},
"concat":[
{"title":"N=2, SR=2.9% on Target","width":237,"height":237,"layer":[{"data":{"name":"n2"},"mark":{"type":"rect","width":16.6,"height":16.6,"clip":true},"encoding":{"x":{"field":"x","type":"quantitative","scale":{"domain":[-16,16],"nice":false,"zero":false},"axis":{"values":[-10,0,10],"title":"x-distance [arcsec]","labelPadding":9,"titlePadding":7.5}},"y":{"field":"y","type":"quantitative","scale":{"domain":[-16,16],"nice":false,"zero":false,"reverse":true},"axis":{"values":[-15,-10,-5,0,5,10,15],"title":"y-distance [arcsec]","labelPadding":9,"titlePadding":4}},"color":{"field":"v","type":"quantitative","scale":{"domain":[0.12,2.95],"range":["#3B2A9E","#463CDE","#4758F8","#3875FE","#2D8CF3","#20A5E3","#01B8CA","#2CC3A7","#57CC7A","#9DC943","#D1BF27","#FEBE3C","#F7DC2A","#FCFC14"]},"legend":{"orient":"none","legendX":250,"legendY":0,"title":null,"gradientLength":237,"gradientThickness":26,"gradientStrokeColor":"#262626","gradientStrokeWidth":0.6,"values":[0.5,1,1.5,2,2.5],"format":".1~f","labelOverlap":false}}}},{"data":{"name":"tick"},"mark":{"type":"point","opacity":0},"encoding":{"x":{"field":"x","type":"quantitative","scale":{"domain":[-16,16],"nice":false,"zero":false},"axis":{"orient":"top","values":[-10,0,10],"labels":false,"title":null}},"y":{"field":"y","type":"quantitative","scale":{"domain":[-16,16],"nice":false,"zero":false,"reverse":true},"axis":{"orient":"right","values":[-15,-10,-5,0,5,10,15],"labels":false,"title":null}}}}],"resolve":{"axis":{"x":"independent","y":"independent"}}},
{"title":"N=4, SR=32.6% on Target","width":237,"height":237,"layer":[{"data":{"name":"n4"},"mark":{"type":"rect","width":16.6,"height":16.6,"clip":true},"encoding":{"x":{"field":"x","type":"quantitative","scale":{"domain":[-16,16],"nice":false,"zero":false},"axis":{"values":[-10,0,10],"title":"x-distance [arcsec]","labelPadding":9,"titlePadding":7.5}},"y":{"field":"y","type":"quantitative","scale":{"domain":[-16,16],"nice":false,"zero":false,"reverse":true},"axis":{"values":[-15,-10,-5,0,5,10,15],"title":"y-distance [arcsec]","labelPadding":9,"titlePadding":4}},"color":{"field":"v","type":"quantitative","scale":{"domain":[0.5,32.6],"range":["#3B2A9E","#463CDE","#4758F8","#3875FE","#2D8CF3","#20A5E3","#01B8CA","#2CC3A7","#57CC7A","#9DC943","#D1BF27","#FEBE3C","#F7DC2A","#FCFC14"]},"legend":{"orient":"none","legendX":255.5,"legendY":0,"title":null,"gradientLength":237,"gradientThickness":25,"gradientStrokeColor":"#262626","gradientStrokeWidth":0.6,"values":[5,10,15,20,25,30],"labelOverlap":false}}}},{"data":{"name":"tick"},"mark":{"type":"point","opacity":0},"encoding":{"x":{"field":"x","type":"quantitative","scale":{"domain":[-16,16],"nice":false,"zero":false},"axis":{"orient":"top","values":[-10,0,10],"labels":false,"title":null}},"y":{"field":"y","type":"quantitative","scale":{"domain":[-16,16],"nice":false,"zero":false,"reverse":true},"axis":{"orient":"right","values":[-15,-10,-5,0,5,10,15],"labels":false,"title":null}}}}],"resolve":{"axis":{"x":"independent","y":"independent"}}},
{"title":"N=8, SR=41.5% on Target","width":237,"height":237,"layer":[{"data":{"name":"n8"},"mark":{"type":"rect","width":16.6,"height":16.6,"clip":true},"encoding":{"x":{"field":"x","type":"quantitative","scale":{"domain":[-16,16],"nice":false,"zero":false},"axis":{"values":[-10,0,10],"title":null,"labelPadding":9}},"y":{"field":"y","type":"quantitative","scale":{"domain":[-16,16],"nice":false,"zero":false,"reverse":true},"axis":{"values":[-15,-10,-5,0,5,10,15],"title":"y-distance [arcsec]","labelPadding":9,"titlePadding":4}},"color":{"field":"v","type":"quantitative","scale":{"domain":[0.5,41.5],"range":["#3B2A9E","#463CDE","#4758F8","#3875FE","#2D8CF3","#20A5E3","#01B8CA","#2CC3A7","#57CC7A","#9DC943","#D1BF27","#FEBE3C","#F7DC2A","#FCFC14"]},"legend":{"orient":"none","legendX":249,"legendY":0,"title":null,"gradientLength":237,"gradientThickness":26,"gradientStrokeColor":"#262626","gradientStrokeWidth":0.6,"values":[5,10,15,20,25,30,35,40],"labelOverlap":false}}}},{"data":{"name":"tick"},"mark":{"type":"point","opacity":0},"encoding":{"x":{"field":"x","type":"quantitative","scale":{"domain":[-16,16],"nice":false,"zero":false},"axis":{"orient":"top","values":[-10,0,10],"labels":false,"title":null}},"y":{"field":"y","type":"quantitative","scale":{"domain":[-16,16],"nice":false,"zero":false,"reverse":true},"axis":{"orient":"right","values":[-15,-10,-5,0,5,10,15],"labels":false,"title":null}}}}],"resolve":{"axis":{"x":"independent","y":"independent"}}},
{"title":"N=16, SR=42.4% on Target","width":237,"height":237,"layer":[{"data":{"name":"n16"},"mark":{"type":"rect","width":16.6,"height":16.6,"clip":true},"encoding":{"x":{"field":"x","type":"quantitative","scale":{"domain":[-16,16],"nice":false,"zero":false},"axis":{"values":[-10,0,10],"title":null,"labelPadding":9}},"y":{"field":"y","type":"quantitative","scale":{"domain":[-16,16],"nice":false,"zero":false,"reverse":true},"axis":{"values":[-15,-10,-5,0,5,10,15],"title":"y-distance [arcsec]","labelPadding":9,"titlePadding":4}},"color":{"field":"v","type":"quantitative","scale":{"domain":[0.5,42.4],"range":["#3B2A9E","#463CDE","#4758F8","#3875FE","#2D8CF3","#20A5E3","#01B8CA","#2CC3A7","#57CC7A","#9DC943","#D1BF27","#FEBE3C","#F7DC2A","#FCFC14"]},"legend":{"orient":"none","legendX":255.5,"legendY":0,"title":null,"gradientLength":237,"gradientThickness":25,"gradientStrokeColor":"#262626","gradientStrokeWidth":0.6,"values":[5,10,15,20,25,30,35,40],"labelOverlap":false}}}},{"data":{"name":"tick"},"mark":{"type":"point","opacity":0},"encoding":{"x":{"field":"x","type":"quantitative","scale":{"domain":[-16,16],"nice":false,"zero":false},"axis":{"orient":"top","values":[-10,0,10],"labels":false,"title":null}},"y":{"field":"y","type":"quantitative","scale":{"domain":[-16,16],"nice":false,"zero":false,"reverse":true},"axis":{"orient":"right","values":[-15,-10,-5,0,5,10,15],"labels":false,"title":null}}}}],"resolve":{"axis":{"x":"independent","y":"independent"}}}
]}
